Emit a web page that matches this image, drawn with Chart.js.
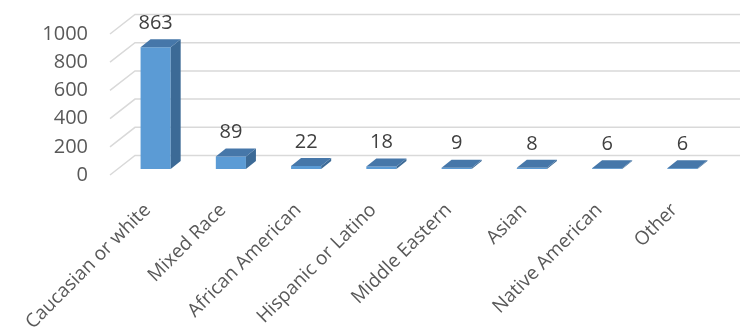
<!DOCTYPE html>
<html>
<head>
<meta charset="utf-8">
<script src="https://cdn.jsdelivr.net/npm/chart.js@4/dist/chart.umd.min.js"></script>
<style>
  html, body { margin: 0; padding: 0; background: #fff; }
</style>
</head>
<body>
<canvas id="chart" width="744" height="333"></canvas>
<script>
const categories = ['Caucasian or white', 'Mixed Race', 'African American', 'Hispanic or Latino',
  'Middle Eastern', 'Asian', 'Native American', 'Other'];
const counts = [863, 89, 22, 18, 9, 8, 6, 6];
const yTicks = [0, 200, 400, 600, 800, 1000];

// fake 3D: floor/back wall depth, and where the bars sit inside it
const WALL = {dx: 25, dy: -19.5};
const BAR_SHIFT = {dx: 8, dy: -6};
const BAR_DEPTH = {dx: 10, dy: -8};
const FONT = 'Open Sans';

const box3d = {
  id: 'box3d',
  beforeDatasetsDraw(chart) {
    const {ctx, chartArea, scales: {y}} = chart;
    ctx.save();
    ctx.strokeStyle = '#d9d9d9';
    ctx.lineWidth = 1.5;
    yTicks.forEach(v => {
      const py = y.getPixelForValue(v);
      ctx.beginPath();
      ctx.moveTo(chartArea.left, py);
      ctx.lineTo(chartArea.left + WALL.dx, py + WALL.dy);
      ctx.lineTo(chartArea.right + WALL.dx + 3, py + WALL.dy);
      ctx.stroke();
    });
    ctx.restore();
    // front faces are drawn by chart.js, pushed back into the box
    ctx.save();
    ctx.translate(BAR_SHIFT.dx, BAR_SHIFT.dy);
  },
  afterDatasetsDraw(chart) {
    const {ctx} = chart;
    ctx.restore();
    const meta = chart.getDatasetMeta(0);
    ctx.save();
    ctx.translate(BAR_SHIFT.dx, BAR_SHIFT.dy);
    meta.data.forEach((bar, i) => {
      const l = bar.x - bar.width / 2, r = bar.x + bar.width / 2;
      const t = bar.y, b = bar.base;
      // side
      ctx.fillStyle = '#3c6a96';
      ctx.beginPath();
      ctx.moveTo(r, t);
      ctx.lineTo(r + BAR_DEPTH.dx, t + BAR_DEPTH.dy);
      ctx.lineTo(r + BAR_DEPTH.dx, b + BAR_DEPTH.dy);
      ctx.lineTo(r, b);
      ctx.closePath();
      ctx.fill();
      // top
      ctx.fillStyle = '#4677a9';
      ctx.beginPath();
      ctx.moveTo(l, t);
      ctx.lineTo(r, t);
      ctx.lineTo(r + BAR_DEPTH.dx, t + BAR_DEPTH.dy);
      ctx.lineTo(l + BAR_DEPTH.dx, t + BAR_DEPTH.dy);
      ctx.closePath();
      ctx.fill();
      // value label
      ctx.fillStyle = '#404040';
      ctx.font = '20px "' + FONT + '"';
      ctx.textAlign = 'center';
      ctx.textBaseline = 'middle';
      ctx.fillText(String(counts[i]), bar.x, t + BAR_DEPTH.dy - 16);
    });
    ctx.restore();
  }
};

new Chart(document.getElementById('chart'), {
  type: 'bar',
  data: {
    labels: categories,
    datasets: [{
      data: counts,
      backgroundColor: '#5b9bd5',
      borderWidth: 0,
      barPercentage: 0.4,
      categoryPercentage: 1,
      clip: false
    }]
  },
  options: {
    responsive: false,
    animation: false,
    layout: {padding: {top: 30, right: 32, left: 0, bottom: 0}},
    plugins: {legend: {display: false}, tooltip: {enabled: false}},
    scales: {
      x: {
        grid: {display: false, drawTicks: false},
        border: {display: false},
        ticks: {
          autoSkip: false,
          maxRotation: 45,
          minRotation: 45,
          padding: 24,
          color: '#595959',
          font: {family: FONT, size: 19}
        },
        afterFit(s) {
          s.height = 158;
          s.paddingLeft = 0;
          s.paddingRight = 0;
        }
      },
      y: {
        min: 0,
        max: 1000,
        grid: {display: false, drawTicks: false},
        border: {display: false},
        ticks: {
          stepSize: 200,
          padding: 22,
          color: '#595959',
          font: {family: FONT, size: 20},
          callback: v => String(v)
        },
        afterFit(s) { s.width = 110; }
      }
    }
  },
  plugins: [box3d]
});
</script>
</body>
</html>
